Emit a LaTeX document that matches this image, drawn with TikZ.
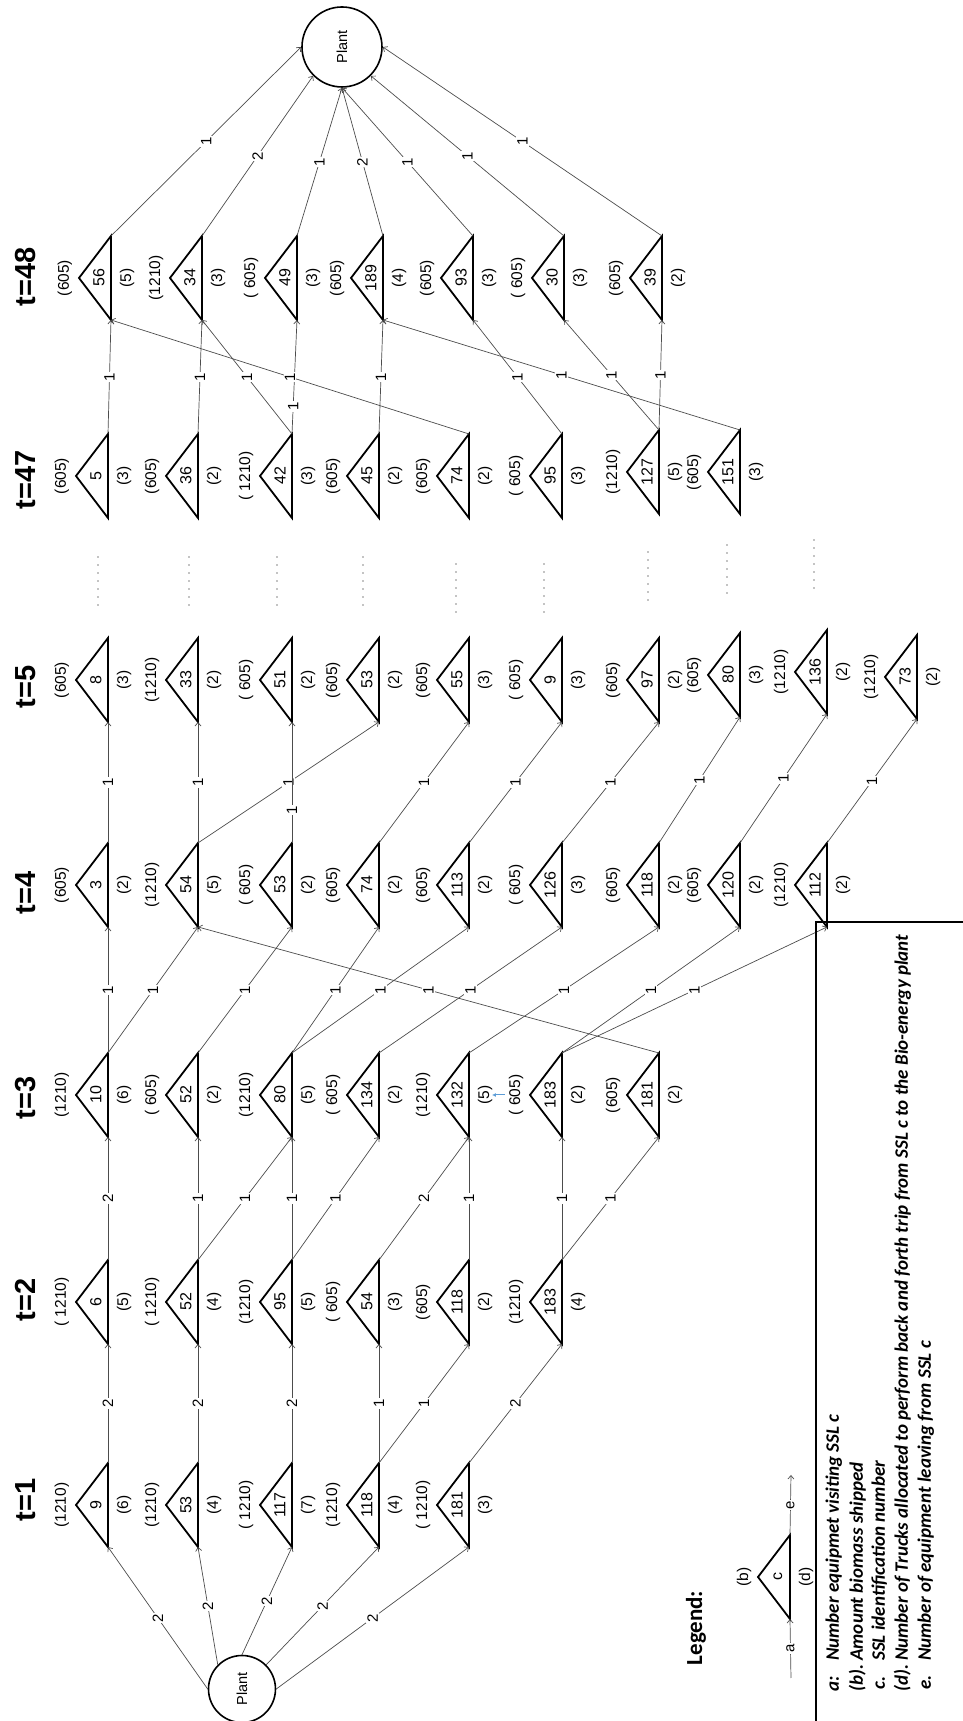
\documentclass[tikz,border=0pt]{standalone}
\usepackage{fontspec}
\setmainfont{Liberation Sans}
\newfontfamily\calibri{Carlito}
\usepackage{tikz}
\usetikzlibrary{arrows.meta}
\definecolor{edgegray}{gray}{0.3}
\definecolor{markblue}{rgb}{0.36,0.61,0.84}

\begin{document}
\begin{tikzpicture}[x=1pt, y=1pt, rotate=90, transform shape,
        amount/.style={font=\fontsize{15.5}{16}\selectfont, inner sep=0pt},
        sslid/.style={font=\fontsize{16}{16}\selectfont, inner sep=0pt},
        plant/.style={circle, draw, line width=1.6pt, font=\fontsize{14.5}{15}\selectfont, inner sep=0pt},
        period/.style={font=\fontsize{29}{29}\selectfont\bfseries},
        tri/.style={draw, line width=1.8pt, line join=miter},
        flow/.style={draw=edgegray, line width=0.7pt, -{Straight Barb[length=3.5pt, width=6pt]}},
        lbl/.style={fill=white, inner sep=1pt, font=\fontsize{15}{15}\selectfont},
        dotrow/.style={draw, line width=1.3pt, line cap=round, dash pattern=on 0pt off 8pt},
        legtxt/.style={font=\calibri\fontsize{19}{19}\selectfont\bfseries\itshape, inner sep=0pt, anchor=base west},
        pics/ssl/.style n args={3}{code={
            \draw[tri] (0,0) -- (-42,-32) -- (42,-32) -- cycle;
            \coordinate (-l) at (-42,-32);
            \coordinate (-r) at (42,-32);
            \node[amount] (-b) at (0,14) {#1};
            \node[sslid] (-c) at (0,-20) {#2};
            \node[amount] (-d) at (0,-48) {#3};
        }}]
    \useasboundingbox (0,0) rectangle (1721,963);

    % periods
    \node[period] (lt1) at (221,937) {t=1};
    \node[period] (lt2) at (421,937) {t=2};
    \node[period] (lt3) at (623,937) {t=3};
    \node[period] (lt4) at (828,937) {t=4};
    \node[period] (lt5) at (1034,937) {t=5};
    \node[period] (lt47) at (1241,937) {t=47};
    \node[period] (lt48) at (1444,937) {t=48};

    % plants
    \node[plant, minimum size=67pt] (plantA) at (32,721) {Plant};
    \node[plant, minimum size=80pt] (plantB) at (1674,621) {Plant};

    % t=1
    \pic (t1a) at (216,887) {ssl={(1210)}{9}{(6)}};
    \pic (t1b) at (216,797) {ssl={(1210)}{53}{(4)}};
    \pic (t1c) at (216,703) {ssl={( 1210)}{117}{(7)}};
    \pic (t1d) at (216,616) {ssl={(1210)}{118}{(4)}};
    \pic (t1e) at (216,526) {ssl={( 1210)}{181}{(3)}};
    % t=2
    \pic (t2a) at (419,887) {ssl={( 1210)}{6}{(5)}};
    \pic (t2b) at (419,797) {ssl={( 1210)}{52}{(4)}};
    \pic (t2c) at (419,703) {ssl={(1210)}{95}{(5)}};
    \pic (t2d) at (419,616) {ssl={( 605)}{54}{(3)}};
    \pic (t2e) at (419,526) {ssl={(605)}{118}{(2)}};
    \pic (t2f) at (419,433) {ssl={(1210)}{183}{(4)}};
    % t=3
    \pic (t3a) at (626,887) {ssl={(1210)}{10}{(6)}};
    \pic (t3b) at (626,797) {ssl={( 605)}{52}{(2)}};
    \pic (t3c) at (626,703) {ssl={(1210)}{80}{(5)}};
    \pic (t3d) at (626,616) {ssl={( 605)}{134}{(2)}};
    \pic (t3e) at (626,526) {ssl={(1210)}{132}{(5)}};
    \pic (t3f) at (626,433) {ssl={( 605)}{183}{(2)}};
    \pic (t3g) at (626,336) {ssl={(605)}{181}{(2)}};
    % t=4
    \pic (t4a) at (836,887) {ssl={(605)}{3}{(2)}};
    \pic (t4b) at (836,797) {ssl={(1210)}{54}{(5)}};
    \pic (t4c) at (836,703) {ssl={( 605)}{53}{(2)}};
    \pic (t4d) at (836,616) {ssl={(605)}{74}{(2)}};
    \pic (t4e) at (836,526) {ssl={(605)}{113}{(2)}};
    \pic (t4f) at (836,433) {ssl={( 605)}{126}{(3)}};
    \pic (t4g) at (836,336) {ssl={(605)}{118}{(2)}};
    \pic (t4h) at (836,255) {ssl={(605)}{120}{(2)}};
    \pic (t4i) at (836,168) {ssl={(1210)}{112}{(2)}};
    % t=5
    \pic (t5a) at (1041,887) {ssl={(605)}{8}{(3)}};
    \pic (t5b) at (1041,797) {ssl={(1210)}{33}{(2)}};
    \pic (t5c) at (1041,703) {ssl={( 605)}{51}{(2)}};
    \pic (t5d) at (1041,616) {ssl={(605)}{53}{(2)}};
    \pic (t5e) at (1041,526) {ssl={(605)}{55}{(3)}};
    \pic (t5f) at (1041,433) {ssl={( 605)}{9}{(3)}};
    \pic (t5g) at (1041,336) {ssl={(605)}{97}{(2)}};
    \pic (t5h) at (1046,255) {ssl={(605)}{80}{(3)}};
    \pic (t5i) at (1049,168) {ssl={(1210)}{136}{(2)}};
    \pic (t5j) at (1044,78) {ssl={(1210)}{73}{(2)}};
    % t=47
    \pic (t47a) at (1245,887) {ssl={(605)}{5}{(3)}};
    \pic (t47b) at (1245,797) {ssl={(605)}{36}{(2)}};
    \pic (t47c) at (1245,703) {ssl={( 1210)}{42}{(3)}};
    \pic (t47d) at (1245,616) {ssl={(605)}{45}{(2)}};
    \pic (t47e) at (1245,526) {ssl={(605)}{74}{(2)}};
    \pic (t47f) at (1245,433) {ssl={( 605)}{95}{(3)}};
    \pic (t47g) at (1249,336) {ssl={(1210)}{127}{(5)}};
    \pic (t47h) at (1249,255) {ssl={(605)}{151}{(3)}};
    % t=48
    \pic (t48a) at (1443,884) {ssl={(605)}{56}{(5)}};
    \pic (t48b) at (1443,793) {ssl={(1210)}{34}{(3)}};
    \pic (t48c) at (1443,698) {ssl={( 605)}{49}{(3)}};
    \pic (t48d) at (1443,612) {ssl={(605)}{189}{(4)}};
    \pic (t48e) at (1443,522) {ssl={(605)}{93}{(3)}};
    \pic (t48f) at (1443,431) {ssl={( 605)}{30}{(3)}};
    \pic (t48g) at (1443,333) {ssl={(605)}{39}{(2)}};

    % skipped periods
    \foreach \yy/\xa in {865/1116, 774/1116, 686/1116, 600/1116, 507/1109, 419/1109, 315/1121, 236/1128, 149/1133}
        \draw[dotrow] (\xa,\yy) -- ++(52,0);

    % plant -> t=1
    \path[flow] (plantA.north) -- node[lbl] {2} (t1a-l);
    \path[flow] (plantA.north east) -- node[lbl] {2} (t1b-l);
    \path[flow] (plantA.east) -- node[lbl] {2} (t1c-l);
    \path[flow] (plantA.south east) -- node[lbl] {2} (t1d-l);
    \path[flow] (plantA.south) -- node[lbl] {2} (t1e-l);
    % t=1 -> t=2
    \path[flow] (t1a-r) -- node[lbl] {2} (t2a-l);
    \path[flow] (t1b-r) -- node[lbl] {2} (t2b-l);
    \path[flow] (t1c-r) -- node[lbl] {2} (t2c-l);
    \path[flow] (t1d-r) -- node[lbl] {1} (t2d-l);
    \path[flow] (t1d-r) -- node[lbl] {1} (t2e-l);
    \path[flow] (t1e-r) -- node[lbl] {2} (t2f-l);
    % t=2 -> t=3
    \path[flow] (t2a-r) -- node[lbl] {2} (t3a-l);
    \path[flow] (t2b-r) -- node[lbl] {1} (t3b-l);
    \path[flow] (t2b-r) -- node[lbl] {1} (t3c-l);
    \path[flow] (t2c-r) -- node[lbl] {1} (t3c-l);
    \path[flow] (t2c-r) -- node[lbl] {1} (t3d-l);
    \path[flow] (t2d-r) -- node[lbl] {2} (t3e-l);
    \path[flow] (t2e-r) -- node[lbl] {1} (t3e-l);
    \path[flow] (t2f-r) -- node[lbl] {1} (t3f-l);
    \path[flow] (t2f-r) -- node[lbl] {1} (t3g-l);
    % t=3 -> t=4
    \path[flow] (t3a-r) -- node[lbl] {1} (t4a-l);
    \path[flow] (t3a-r) -- node[lbl] {1} (t4b-l);
    \path[flow] (t3b-r) -- node[lbl] {1} (t4c-l);
    \path[flow] (t3c-r) -- node[lbl] {1} (t4d-l);
    \path[flow] (t3c-r) -- node[lbl] {1} (t4e-l);
    \path[flow] (t3d-r) -- node[lbl] {1} (t4f-l);
    \path[flow] (t3e-r) -- node[lbl] {1} (t4g-l);
    \path[flow] (t3f-r) -- node[lbl] {1} (t4h-l);
    \path[flow] (t3f-r) -- node[lbl] {1} (t4i-l);
    \path[flow] (t3g-r) -- node[lbl] {1} (t4b-l);
    % t=4 -> t=5
    \path[flow] (t4a-r) -- node[lbl] {1} (t5a-l);
    \path[flow] (t4b-r) -- node[lbl] {1} (t5b-l);
    \path[flow] (t4b-r) -- node[lbl] {1} (t5d-l);
    \path[flow] (t4c-r) -- node[lbl, pos=0.27] {1} (t5c-l);
    \path[flow] (t4d-r) -- node[lbl] {1} (t5e-l);
    \path[flow] (t4e-r) -- node[lbl] {1} (t5f-l);
    \path[flow] (t4f-r) -- node[lbl] {1} (t5g-l);
    \path[flow] (t4g-r) -- node[lbl] {1} (t5h-l);
    \path[flow] (t4h-r) -- node[lbl] {1} (t5i-l);
    \path[flow] (t4i-r) -- node[lbl] {1} (t5j-l);
    % t=47 -> t=48
    \path[flow] (t47a-r) -- node[lbl] {1} (t48a-l);
    \path[flow] (t47b-r) -- node[lbl] {1} (t48b-l);
    \path[flow] (t47c-r) -- node[lbl] {1} (t48b-l);
    \path[flow] (t47c-r) -- node[lbl, pos=0.24] {1} (t48c-l);
    \path[flow] (t47e-r) -- node[lbl] {1} (t48a-l);
    \path[flow] (t47d-r) -- node[lbl] {1} (t48d-l);
    \path[flow] (t47f-r) -- node[lbl] {1} (t48e-l);
    \path[flow] (t47g-r) -- node[lbl] {1} (t48f-l);
    \path[flow] (t47g-r) -- node[lbl] {1} (t48g-l);
    \path[flow] (t47h-r) -- node[lbl] {1} (t48d-l);
    % t=48 -> plant
    \path[flow] (t48a-r) -- node[lbl] {1} (plantB.north);
    \path[flow] (t48b-r) -- node[lbl] {2} (plantB.north west);
    \path[flow] (t48c-r) -- node[lbl] {1} (plantB.west);
    \path[flow] (t48d-r) -- node[lbl] {2} (plantB.west);
    \path[flow] (t48e-r) -- node[lbl] {1} (plantB.west);
    \path[flow] (t48f-r) -- node[lbl] {1} (plantB.south west);
    \path[flow] (t48g-r) -- node[lbl] {1} (plantB.south);

    % stray mark
    \draw[markblue, line width=1pt, -{Latex[length=4pt, width=4pt]}] (626,458) -- (626,471);

    % legend
    \node[font=\calibri\fontsize{23}{23}\selectfont\bfseries] (legend) at (93,267) {Legend:};
    \pic (lg) at (144,205) {ssl={(b)}{c}{(d)}};
    \coordinate (lga) at (43,172);
    \coordinate (lge) at (246,172);
    \path[flow] (lga) -- node[lbl] {a} (lg-l);
    \path[flow] (lg-r) -- node[lbl] {e} (lge);
    \draw[line width=2.2pt] (0,147) -- (799,147) -- (799,0);

    \node[legtxt] (k1) at (29,124) {a:};
    \node[legtxt] (v1) at (60,124) {Number equipmet visiting SSL c};
    \node[legtxt] (k2) at (29,100) {(b).};
    \node[legtxt] (v2) at (60,100) {Amount biomass shipped};
    \node[legtxt] (k3) at (31,78) {c.};
    \node[legtxt] (v3) at (60,78) {SSL identification number};
    \node[legtxt] (k4) at (29,55) {(d).};
    \node[legtxt] (v4) at (60,55) {Number of Trucks allocated to perform back and forth trip from SSL c to the Bio-energy plant};
    \node[legtxt] (k5) at (31,32) {e.};
    \node[legtxt] (v5) at (60,32) {Number of equipment leaving from SSL c};
\end{tikzpicture}
\end{document}
